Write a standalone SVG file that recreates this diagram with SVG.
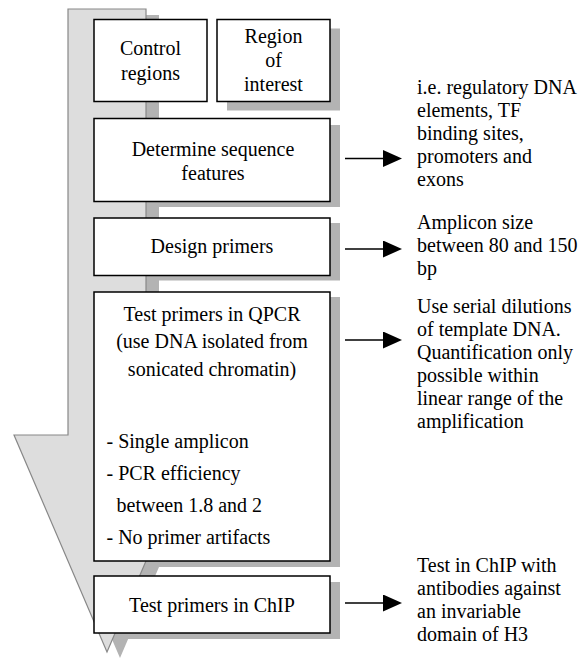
<svg xmlns="http://www.w3.org/2000/svg" width="578" height="660" viewBox="0 0 578 660">
<style>
.t{font-family:"Liberation Serif","Times New Roman",serif;font-size:20px;fill:#000}
.c{text-anchor:middle}
.box{fill:#fff;stroke:#000;stroke-width:1.5}
.sh{fill:#b3b3b3}
.conn{stroke:#000;stroke-width:1.5;fill:none}
</style>
<defs>
<marker id="ah" markerUnits="userSpaceOnUse" markerWidth="19" markerHeight="17" refX="0" refY="8.5" orient="auto">
<path d="M0,0 L19,8.5 L0,17 Z" fill="#000"/>
</marker>
</defs>
<rect width="578" height="660" fill="#fff"/>
<g id="shadows">
<rect class="sh" x="227" y="28.5" width="113" height="82"/>
<rect class="sh" x="104" y="125" width="236" height="82"/>
<rect class="sh" x="104" y="223" width="236" height="57.5"/>
<rect class="sh" x="104" y="297" width="236" height="270"/>
<rect class="sh" x="104" y="582" width="236" height="57"/>
</g>
<g id="flow-arrow">
<path d="M68,9 L146,9 L146,435 L200,435 L107,652 L14,435 L68,435 Z" transform="translate(13,6)" fill="#b3b3b3"/>
<path d="M68,9 L146,9 L146,435 L200,435 L107,652 L14,435 L68,435 Z" fill="#dddddd" stroke="#888" stroke-width="1.2"/>
</g>
<g id="control-regions">
<rect class="box" x="94" y="19.5" width="113" height="82"/>
<text class="t c" x="150.5" y="55">Control</text>
<text class="t c" x="150.5" y="80">regions</text>
</g>
<g id="region-of-interest">
<rect class="box" x="217" y="19.5" width="113" height="82"/>
<text class="t c" x="273.5" y="43">Region</text>
<text class="t c" x="273.5" y="67">of</text>
<text class="t c" x="273.5" y="91">interest</text>
</g>
<g id="determine">
<rect class="box" x="94" y="118.5" width="236" height="83"/>
<text class="t c" x="213" y="156">Determine sequence</text>
<text class="t c" x="213" y="180">features</text>
</g>
<g id="design">
<rect class="box" x="94" y="218" width="236" height="57.5"/>
<text class="t c" x="212" y="253">Design primers</text>
</g>
<g id="qpcr">
<rect class="box" x="94" y="292" width="236" height="269"/>
<text class="t c" x="212" y="321">Test primers in QPCR</text>
<text class="t c" x="212" y="348">(use DNA isolated from</text>
<text class="t c" x="212" y="376">sonicated chromatin)</text>
<text class="t" x="106.5" y="448">- Single amplicon</text>
<text class="t" x="106.5" y="480">- PCR efficiency</text>
<text class="t" x="116.5" y="512">between 1.8 and 2</text>
<text class="t" x="106.5" y="544">- No primer artifacts</text>
</g>
<g id="chip">
<rect class="box" x="94" y="576" width="236" height="57"/>
<text class="t c" x="212" y="612">Test primers in ChIP</text>
</g>
<g id="connectors">
<line class="conn" x1="345" y1="158.5" x2="383" y2="158.5" marker-end="url(#ah)"/>
<line class="conn" x1="345" y1="249" x2="383" y2="249" marker-end="url(#ah)"/>
<line class="conn" x1="345" y1="340" x2="383" y2="340" marker-end="url(#ah)"/>
<line class="conn" x1="345" y1="603" x2="383" y2="603" marker-end="url(#ah)"/>
</g>
<g id="note-features">
<text class="t" x="417" y="94">i.e. regulatory DNA</text>
<text class="t" x="417" y="117">elements, TF</text>
<text class="t" x="417" y="140">binding sites,</text>
<text class="t" x="417" y="163">promoters and</text>
<text class="t" x="417" y="186">exons</text>
</g>
<g id="note-amplicon">
<text class="t" x="417" y="229">Amplicon size</text>
<text class="t" x="417" y="252">between 80 and 150</text>
<text class="t" x="417" y="275">bp</text>
</g>
<g id="note-dilutions">
<text class="t" x="417" y="313">Use serial dilutions</text>
<text class="t" x="417" y="336">of template DNA.</text>
<text class="t" x="417" y="359">Quantification only</text>
<text class="t" x="417" y="382">possible within</text>
<text class="t" x="417" y="405">linear range of the</text>
<text class="t" x="417" y="428">amplification</text>
</g>
<g id="note-chip">
<text class="t" x="417" y="572">Test in ChIP with</text>
<text class="t" x="417" y="595">antibodies against</text>
<text class="t" x="417" y="618">an invariable</text>
<text class="t" x="417" y="641">domain of H3</text>
</g>
</svg>
